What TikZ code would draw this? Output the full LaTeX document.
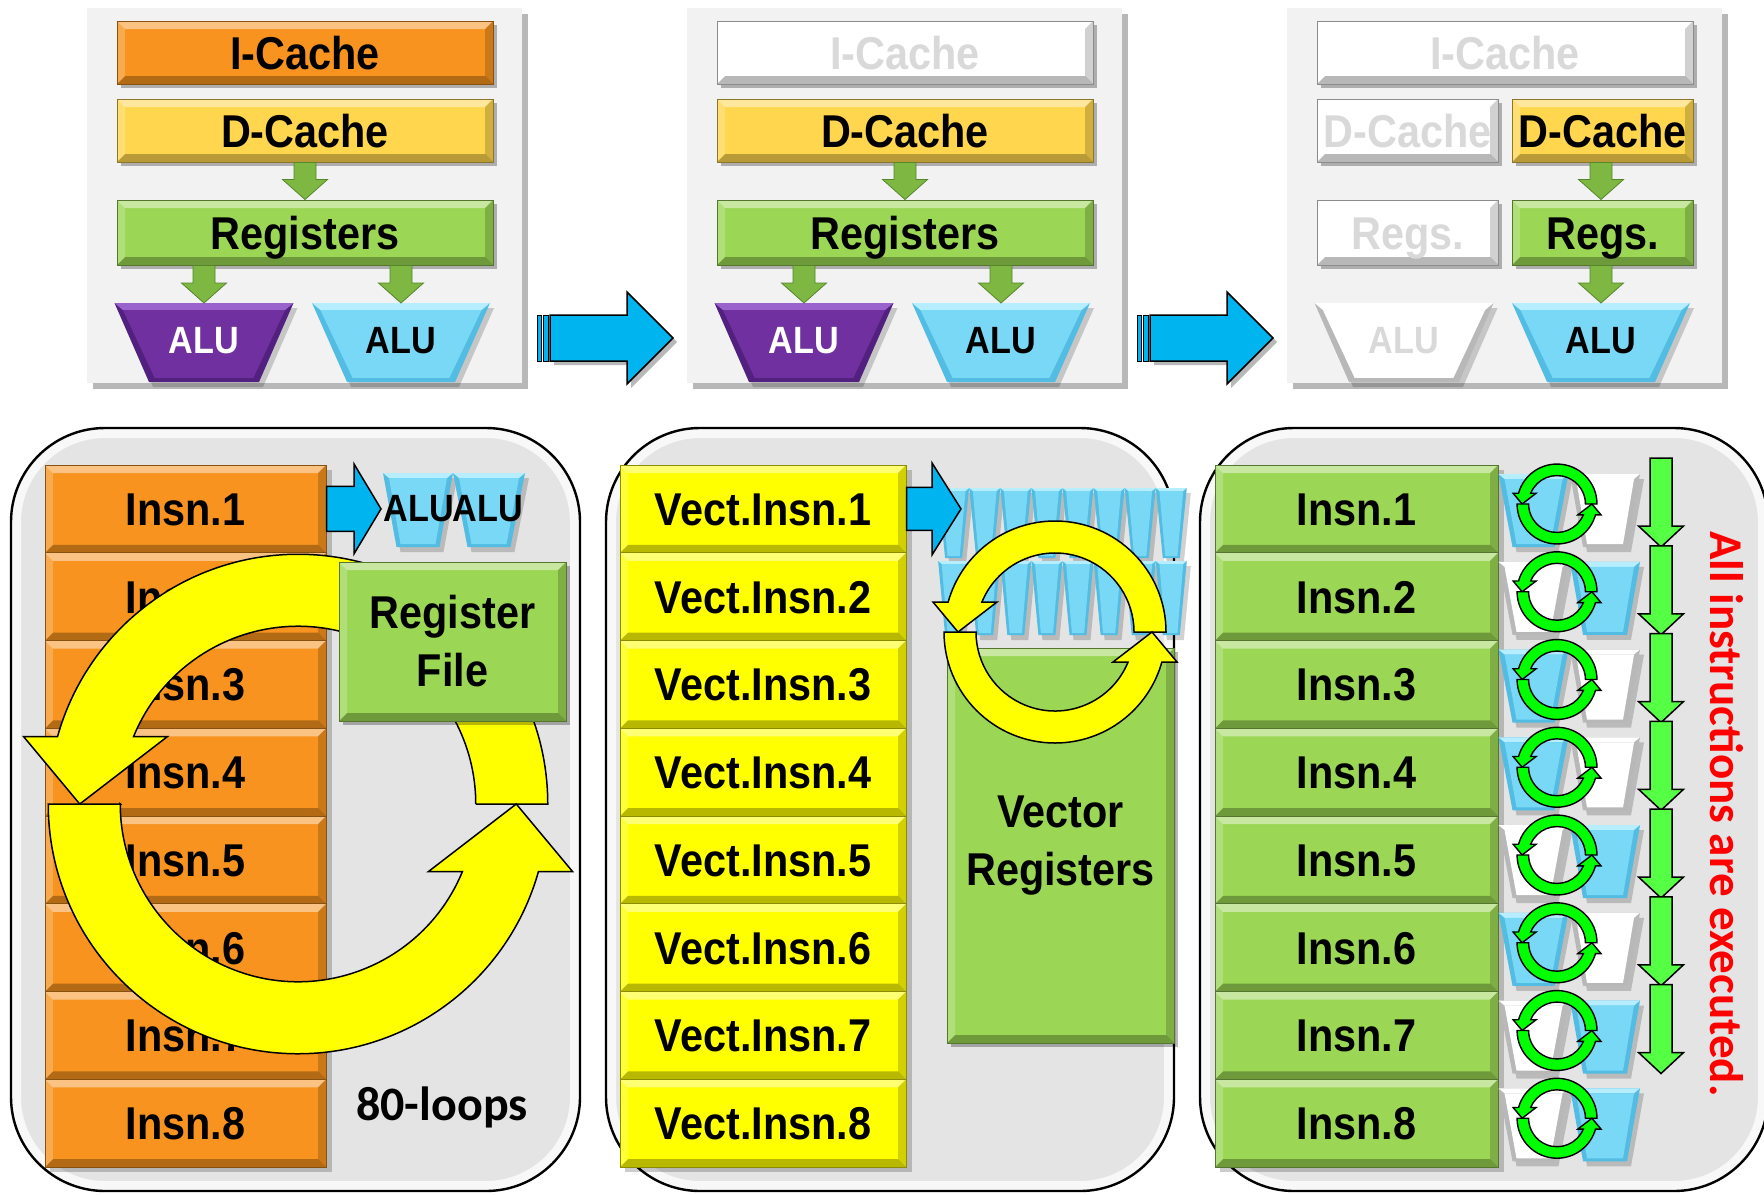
\documentclass[tikz,border=0pt]{standalone}
\usepackage{fontspec}
\usetikzlibrary{calc,shadows}
\newfontfamily\gfont{Liberation Sans}[FakeStretch=0.9]
\newfontfamily\cfont{Carlito}

\definecolor{panelbg}{HTML}{F2F2F2}
\definecolor{bpanelc}{HTML}{E4E4E4}
\definecolor{orng}{HTML}{F7931E}
\definecolor{dcy}{HTML}{FFD64D}
\definecolor{regg}{HTML}{9BD654}
\definecolor{purp}{HTML}{7030A0}
\definecolor{purpE}{HTML}{52207E}
\definecolor{purpL}{HTML}{9A62CC}
\definecolor{aluc}{HTML}{78D8F6}
\definecolor{alucE}{HTML}{52BCE2}
\definecolor{alucL}{HTML}{B6EDFF}
\definecolor{ghostE}{HTML}{B8B8B8}
\definecolor{gtx}{HTML}{D9D9D9}
\definecolor{blu}{HTML}{00B4F0}
\definecolor{yel}{HTML}{FFFF00}
\definecolor{garw}{HTML}{7EB843}
\definecolor{garwE}{HTML}{55862A}
\definecolor{ltg}{HTML}{55FF44}
\definecolor{ringg}{HTML}{00FF00}

\tikzset{
  gfnt/.style={font=\gfont\bfseries\fontsize{#1}{#1}\selectfont},
  gfnt/.default=23,
  sh/.style={drop shadow={shadow xshift=#1, shadow yshift=-#1, opacity=.28, fill=black}},
  sh/.default=2pt,
  bev/.style={fill=#1, draw=#1!55!black, line width=.5pt,
    path picture={
      \coordinate (pnw) at (path picture bounding box.north west);
      \coordinate (pne) at (path picture bounding box.north east);
      \coordinate (psw) at (path picture bounding box.south west);
      \coordinate (pse) at (path picture bounding box.south east);
      \fill[white, opacity=.45] (pnw) -- (pne) -- ($(pne)+(-4pt,-4pt)$) -- ($(pnw)+(4pt,-4pt)$) -- cycle;
      \fill[black, opacity=.28] (psw) -- (pse) -- ($(pse)+(-4pt,4pt)$) -- ($(psw)+(4pt,4pt)$) -- cycle;
      \fill[white, opacity=.22] (pnw) -- (psw) -- ($(psw)+(4pt,4pt)$) -- ($(pnw)+(4pt,-4pt)$) -- cycle;
      \fill[black, opacity=.18] (pne) -- (pse) -- ($(pse)+(-4pt,4pt)$) -- ($(pne)+(-4pt,-4pt)$) -- cycle;
    }},
  cbox/.style={bev=#1, sh, inner sep=0pt, minimum height=31.5pt, gfnt, text height=16.5pt, text depth=0pt},
  wide/.style={minimum width=188pt},
  half/.style={minimum width=90.5pt},
  ghost/.style={text=gtx},
  tpanel/.style={fill=panelbg, sh=3pt, minimum width=217.5pt, minimum height=187.5pt, inner sep=0pt},
  bpanel/.style={draw=black, line width=1.2pt, fill=bpanelc, rounded corners=47pt,
    minimum width=#1, minimum height=381.5pt, inner sep=0pt,
    path picture={\draw[white, opacity=.75, line width=10pt, rounded corners=47pt]
      (path picture bounding box.south west) rectangle (path picture bounding box.north east);}},
  rowbox/.style={bev=#1, inner sep=0pt, minimum height=43.875pt, gfnt, text height=16.5pt, text depth=0pt},
  alut/.style={gfnt=#1, text height=0.716*#1pt, text depth=0pt, inner sep=0pt},
  blk/.style={fill=#1, draw=black, line width=.75pt, line join=miter},
  grn/.style={fill=garw, draw=garwE, line width=.4pt, line join=miter},
}

% inverted trapezoid (ALU): centre, top half-width, bottom half-width, half-height, face, edge, light, bevel
\newcommand\trapz[8]{%
  \fill[black,opacity=.18] ($(#1)+(-#2+4,-#4+5)$) -- ($(#1)+(#2+4,-#4+5)$) -- ($(#1)+(#3+4,#4+5)$) -- ($(#1)+(-#3+4,#4+5)$) -- cycle;
  \fill[#6] ($(#1)+(-#2,-#4)$) -- ($(#1)+(#2,-#4)$) -- ($(#1)+(#3,#4)$) -- ($(#1)+(-#3,#4)$) -- cycle;
  \fill[#7] ($(#1)+(-#2,-#4)$) -- ($(#1)+(#2,-#4)$) -- ($(#1)+(#2-1.2*#8,-#4+#8)$) -- ($(#1)+(-#2+1.2*#8,-#4+#8)$) -- cycle;
  \fill[#5] ($(#1)+(-#2+1.2*#8,-#4+#8)$) -- ($(#1)+(#2-1.2*#8,-#4+#8)$) -- ($(#1)+(#3-0.8*#8,#4-0.6*#8)$) -- ($(#1)+(-#3+0.8*#8,#4-0.6*#8)$) -- cycle;
}

% downward block arrow: from, to, style, shaft half-width, head half-width, head length
\newcommand\dnarrow[6]{%
  \path[#3] let \p1=(#1), \p2=(#2) in
    (\x1-#4,\y1) -- (\x1+#4,\y1) -- (\x1+#4,\y2+#6) -- (\x1+#5,\y2+#6) -- (\x1,\y2)
    -- (\x1-#5,\y2+#6) -- (\x1-#4,\y2+#6) -- cycle;}

% rightward block arrow: from, to, style, shaft half-width, head half-width, head length
\newcommand\rarrow[6]{%
  \path[#3] let \p1=(#1), \p2=(#2) in
    (\x1,\y1+#4) -- (\x2-#6,\y1+#4) -- (\x2-#6,\y1+#5) -- (\x2,\y1) -- (\x2-#6,\y1-#5)
    -- (\x2-#6,\y1-#4) -- (\x1,\y1-#4) -- cycle;}

% pair of circular arrows: centre, scale, fill, outline width
\newcommand\rings[4]{%
  \begin{scope}[shift={(#1)}, scale=#2, yscale=-1]
    \foreach \rr in {0,180}
      \filldraw[fill=#3, draw=black, line width=#4, line join=miter, rotate=\rr]
        (79,0) -- (111,0) arc[start angle=0, end angle=164.32, radius=111]
        -- (-122,30) -- (-97,0) -- (-58,30)
        -- (157.68:79) arc[start angle=157.68, end angle=0, radius=79] -- cycle;
  \end{scope}}

\begin{document}
\begin{tikzpicture}[x=0.5pt,y=-0.5pt]
\useasboundingbox (0,0) rectangle (1764,1194);
\fill[white] (0,0) rectangle (1764,1194);

% ---------------- upper row: three processor sketches ----------------
\node[tpanel] (tp1) at (304.5,195.5) {};
\node[tpanel] (tp2) at (904.5,195.5) {};
\node[tpanel] (tp3) at (1504.5,195.5) {};

% first sketch
\node[cbox=orng, wide] (ic1) at (305,52.5) {I-Cache};
\node[cbox=dcy, wide] (dc1) at (305,130.5) {D-Cache};
\node[cbox=regg, wide, minimum height=32.5pt] (rg1) at (305,232.5) {Registers};
\coordinate (al1) at (204,342.5);
\coordinate (ar1) at (401,342.5);
\trapz{al1}{89.5}{55}{39.5}{purp}{purpE}{purpL}{7}
\trapz{ar1}{89}{54}{39.5}{aluc}{alucE}{alucL}{7}
\node[alut=19, text=white] (al1t) at (204,340) {ALU};
\node[alut=19] (ar1t) at (401,340) {ALU};
\dnarrow{dc1.south}{rg1.north}{grn}{5.5pt}{11.25pt}{10pt}
\dnarrow{rg1.south -| al1}{$(al1)+(0,-39.5)$}{grn}{5.5pt}{11.25pt}{10pt}
\dnarrow{rg1.south -| ar1}{$(ar1)+(0,-39.5)$}{grn}{5.5pt}{11.25pt}{10pt}

% second sketch
\node[cbox=white, wide, ghost] (ic2) at (905,52.5) {I-Cache};
\node[cbox=dcy, wide] (dc2) at (905,130.5) {D-Cache};
\node[cbox=regg, wide, minimum height=32.5pt] (rg2) at (905,232.5) {Registers};
\coordinate (al2) at (804,342.5);
\coordinate (ar2) at (1001,342.5);
\trapz{al2}{89.5}{55}{39.5}{purp}{purpE}{purpL}{7}
\trapz{ar2}{89}{54}{39.5}{aluc}{alucE}{alucL}{7}
\node[alut=19, text=white] (al2t) at (804,340) {ALU};
\node[alut=19] (ar2t) at (1001,340) {ALU};
\dnarrow{dc2.south}{rg2.north}{grn}{5.5pt}{11.25pt}{10pt}
\dnarrow{rg2.south -| al2}{$(al2)+(0,-39.5)$}{grn}{5.5pt}{11.25pt}{10pt}
\dnarrow{rg2.south -| ar2}{$(ar2)+(0,-39.5)$}{grn}{5.5pt}{11.25pt}{10pt}

% third sketch
\node[cbox=white, wide, ghost] (ic3) at (1505,52.5) {I-Cache};
\node[cbox=white, half, ghost] (dc3l) at (1407.5,130.5) {D-Cache};
\node[cbox=dcy, half] (dc3r) at (1602.5,130.5) {D-Cache};
\node[cbox=white, half, ghost, minimum height=32.5pt] (rg3l) at (1407.5,232.5) {Regs.};
\node[cbox=regg, half, minimum height=32.5pt] (rg3r) at (1602.5,232.5) {Regs.};
\coordinate (al3) at (1404,342.5);
\coordinate (ar3) at (1601,342.5);
\trapz{al3}{89.5}{55}{39.5}{white}{ghostE}{white}{7}
\trapz{ar3}{89}{54}{39.5}{aluc}{alucE}{alucL}{7}
\node[alut=19, text=gtx] (al3t) at (1404,340) {ALU};
\node[alut=19] (ar3t) at (1601,340) {ALU};
\dnarrow{dc3r.south -| ar3}{rg3r.north -| ar3}{grn}{5.5pt}{11.25pt}{10pt}
\dnarrow{rg3r.south -| ar3}{$(ar3)+(0,-39.5)$}{grn}{5.5pt}{11.25pt}{10pt}

% transition arrows between the sketches
\coordinate (ba1s) at (550,338); \coordinate (ba1t) at (673,338);
\coordinate (ba2s) at (1150,338); \coordinate (ba2t) at (1273,338);
\rarrow{ba1s}{ba1t}{blk=blu, sh}{11.5pt}{23pt}{23pt}
\rarrow{ba2s}{ba2t}{blk=blu, sh}{11.5pt}{23pt}{23pt}
\draw[blk=blu, line width=.5pt] (537,315) rectangle (541,361);
\draw[blk=blu, line width=.5pt] (543,315) rectangle (548,361);
\draw[blk=blu, line width=.5pt] (1137,315) rectangle (1141,361);
\draw[blk=blu, line width=.5pt] (1143,315) rectangle (1148,361);

% ---------------- lower row: three execution styles ----------------
\node[bpanel=284.5pt] (bp1) at (295.5,809.5) {};
\node[bpanel=284pt] (bp2) at (890,809.5) {};
\node[bpanel=284pt] (bp3) at (1484,809.5) {};

% scalar loop
\fill[black, opacity=.2] (50,470) rectangle (332,1172);
\foreach \i in {1,...,8}
  \node[rowbox=orng, minimum width=140.5pt] (p1r\i) at (185.5,{508.9+87.75*(\i-1)}) {Insn.\i};
\coordinate (u1) at (418,510);
\coordinate (u2) at (489,510);
\trapz{u1}{35}{21.5}{37}{aluc}{alucE}{alucL}{5}
\trapz{u2}{36}{21.5}{37}{aluc}{alucE}{alucL}{5}
\node[alut=19] (u1t) at (419,508) {ALU};
\node[alut=19] (u2t) at (488,508) {ALU};
\coordinate (p1tip) at (381,508.5);
\rarrow{p1r1.east}{p1tip}{blk=blu}{11.25pt}{22.5pt}{13.5pt}
\coordinate (loopc) at (298,804);
\rings{loopc}{2.25}{yel}{.75pt}
\node[bev=regg, sh, minimum width=113.5pt, minimum height=79.5pt, inner sep=0pt, align=center,
      font=\gfont\bfseries\fontsize{23}{29}\selectfont] (rf) at (452.5,641.5) {Register\\File};
\node[font=\cfont\bfseries\fontsize{24}{24}\selectfont, anchor=base] (loops) at (442,1120) {80-loops};

% vector execution
\fill[black, opacity=.2] (625,470) rectangle (912,1172);
\foreach \i in {1,...,8}
  \node[rowbox=yel, minimum width=143pt] (p2r\i) at (763,{508.9+87.75*(\i-1)}) {Vect.Insn.\i};
\foreach \j in {0,...,7} {
  \coordinate (va\j) at (953.6+31.1*\j,523);
  \trapz{va\j}{15.5}{8.5}{35}{aluc}{alucE}{alucL}{3}
}
\foreach \j in {0,...,7} {
  \coordinate (vb\j) at (953.6+31.1*\j,598);
  \trapz{vb\j}{15.5}{8.5}{37}{aluc}{alucE}{alucL}{3}
}
\coordinate (p2tip) at (961,509);
\rarrow{p2r1.east}{p2tip}{blk=blu}{10.75pt}{23pt}{14.5pt}
\node[bev=regg, sh, minimum width=113.5pt, minimum height=197.5pt, inner sep=0pt, align=center,
      font=\gfont\bfseries\fontsize{23}{29}\selectfont] (vr) at (1060.5,845.5) {Vector\\Registers};
\coordinate (vloop) at (1055,632);
\rings{vloop}{1}{yel}{.75pt}

% superscalar / out-of-order
\fill[black, opacity=.2] (1220,470) rectangle (1504,1172);
\foreach \i in {1,...,8}
  \node[rowbox=regg, minimum width=141.5pt] (p3r\i) at (1356.5,{508.9+87.75*(\i-1)}) {Insn.\i};
\foreach \i/\s in {1/0,2/1,3/0,4/0,5/1,6/0,7/1,8/1} {
  \pgfmathsetmacro\ty{465+87.75*(\i-1)+45.5}
  \coordinate (pl\i) at (1533.5,\ty);
  \coordinate (pr\i) at (1605,\ty);
  \ifnum\s=0
    \trapz{pl\i}{35}{21}{36.5}{aluc}{alucE}{alucL}{5}
    \trapz{pr\i}{35}{22}{36.5}{white}{ghostE}{white}{5}
  \else
    \trapz{pl\i}{35}{21}{36.5}{white}{ghostE}{white}{5}
    \trapz{pr\i}{35}{22}{36.5}{aluc}{alucE}{alucL}{5}
  \fi
}
\foreach \i in {1,...,8} {
  \pgfmathsetmacro\ry{465+87.75*(\i-1)+39}
  \coordinate (rc\i) at (1557,\ry);
  \rings{rc\i}{0.36}{ringg}{.7pt}
}
\foreach \i in {1,...,7} {
  \pgfmathsetmacro\ra{465+87.75*(\i-1)}
  \coordinate (ds\i) at (1661,\ra-7);
  \coordinate (dt\i) at (1661,\ra+82);
  \dnarrow{ds\i}{dt\i}{blk=ltg}{5.5pt}{11.25pt}{10.5pt}
}
\node[rotate=-90, text=red, inner sep=0pt, font=\cfont\bfseries\fontsize{23.5}{24}\selectfont] (note) at (1727,814) {All instructions are executed.};

\end{tikzpicture}
\end{document}
